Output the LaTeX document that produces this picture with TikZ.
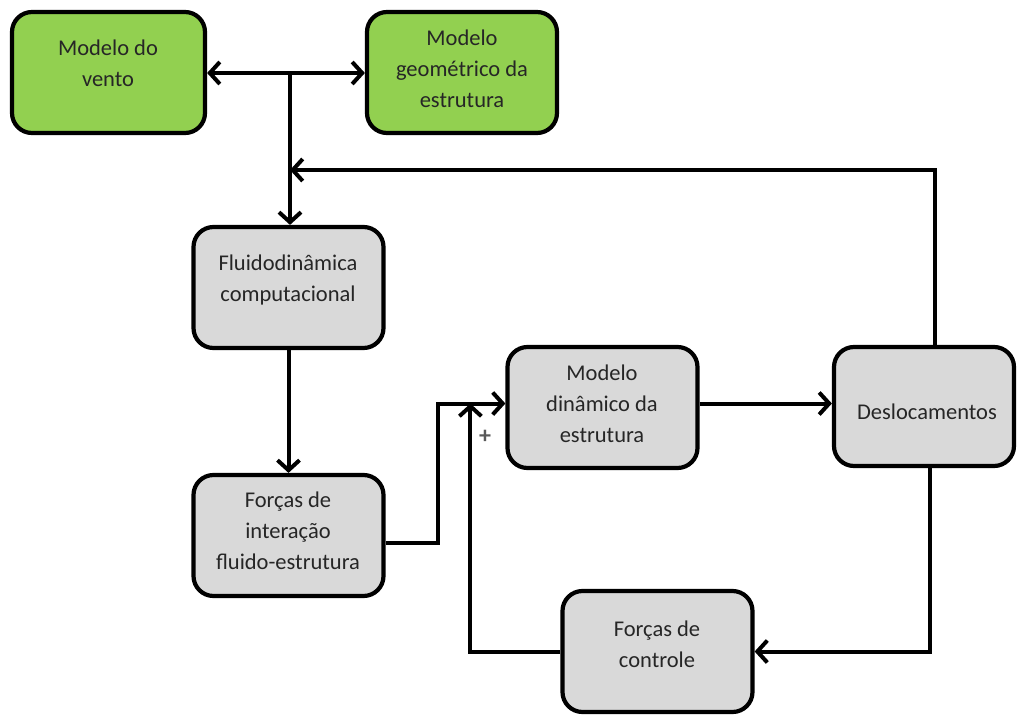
\documentclass[tikz,border=0pt]{standalone}
\usepackage{fontspec}
\setmainfont{Carlito}
\usetikzlibrary{arrows.meta}
\definecolor{boxgreen}{HTML}{92D050}
\definecolor{boxgray}{HTML}{D9D9D9}
\begin{document}
\begin{tikzpicture}[x=1pt,y=-1pt,
  blk/.style={draw=black, line width=4.2pt, rounded corners=20pt, inner sep=0pt,
    minimum width=190pt, minimum height=121pt},
  gbox/.style={blk, fill=boxgreen},
  ybox/.style={blk, fill=boxgray},
  txt/.style={align=center, inner sep=0pt, font=\fontsize{22.5}{31}\selectfont, text=black!85},
  arr/.style={line width=4pt, -{Straight Barb[length=10pt,width=22pt,line width=4pt]}},
  ln/.style={line width=4pt}]
\useasboundingbox (0,0) rectangle (1018,715);
% boxes
\node[gbox, minimum width=193pt] (vento) at (108.5,72.5) {};
\node[gbox] (geo) at (462,72.5) {};
\node[ybox] (fluido) at (288.5,287.5) {};
\node[ybox] (forcas) at (288.5,535.5) {};
\node[ybox] (din) at (602.5,407.5) {};
\node[ybox, minimum width=180pt, minimum height=119pt] (desl) at (924,406.5) {};
\node[ybox] (ctrl) at (657.5,651.5) {};
% texts
\node[txt] (tvento) at (108,63) {Modelo do\\vento};
\node[txt] (tgeo) at (462,69) {Modelo\\geométrico da\\estrutura};
\node[txt] (tfluido) at (288,280) {Fluidodinâmica\\computacional};
\node[txt] (tforcas) at (288,531) {Forças de\\interação\\fluido-estrutura};
\node[txt] (tdin) at (602,404) {Modelo\\dinâmico da\\estrutura};
\node[txt] (tdesl) at (927,412) {Deslocamentos};
\node[txt] (tctrl) at (657,644) {Forças de\\controle};
% connectors
\coordinate (j1) at (290,73);
\coordinate (j2) at (290,170);
\draw[arr] (j1) -- (vento.east |- j1);
\draw[arr] (j1) -- (geo.west |- j1);
\draw[arr] (j1) -- (j1 |- fluido.north);
\draw[arr] ([xshift=11pt]desl.north) |- (j2);
\draw[arr] (fluido.south) -- (forcas.north);
\draw[arr] ([yshift=-7.5pt]forcas.east) -| ([xshift=-67pt,yshift=4pt]din.west) -- ([yshift=4pt]din.west);
\draw[arr] ([yshift=4pt]din.east) -- ([yshift=4pt]din.east -| desl.west);
\draw[arr] ([xshift=6pt]desl.south) |- (ctrl.east);
\draw[arr] (ctrl.west) -| ([xshift=-35pt,yshift=4pt]din.west);
\node[text=black!65, font=\fontsize{24}{24}\selectfont\bfseries, inner sep=0pt] (plus) at (485,437) {+};
\end{tikzpicture}
\end{document}
